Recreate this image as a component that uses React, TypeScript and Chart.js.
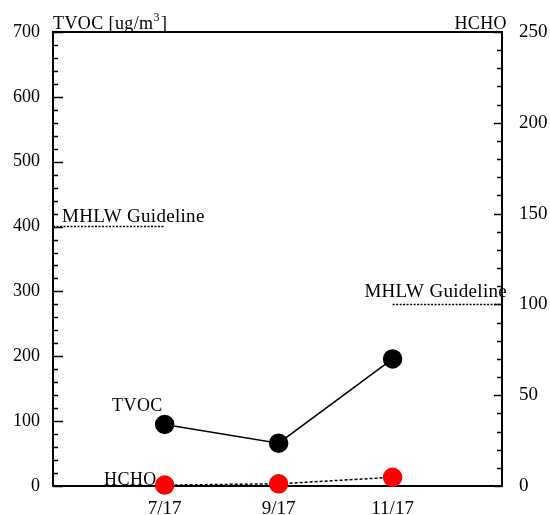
import React, { useEffect, useRef } from "react";
import { Chart, registerables } from "chart.js";

Chart.register(...registerables);

const categories = ["7/17", "9/17", "11/17"];
const tvocValues = [95, 66, 196];
const hchoValues = [0.5, 1.2, 4.8];
const tvocGuideline = 400;
const hchoGuideline = 100;
const leftTicks = { min: 0, max: 700, step: 100, minor: 20 };
const rightTicks = { min: 0, max: 250, step: 50, minor: 10 };

const FONT = "'Liberation Serif', 'Times New Roman', serif";
const X_MIN = 0.02;
const X_MAX = 3.96;

const decorPlugin = {
  id: "decor",
  beforeDatasetsDraw(chart: any) {
    const { ctx, chartArea: a } = chart;
    ctx.save();
    ctx.strokeStyle = "#000";
    ctx.lineWidth = 2;
    ctx.strokeRect(a.left, a.top, a.right - a.left, a.bottom - a.top);
    const y = chart.scales.y;
    ctx.lineWidth = 1.5;
    for (let v = leftTicks.min; v <= leftTicks.max; v += leftTicks.minor) {
      const p = Math.round(y.getPixelForValue(v)) + 0.5;
      const len = v % leftTicks.step === 0 ? 10 : 5;
      ctx.beginPath();
      ctx.moveTo(a.left, p);
      ctx.lineTo(a.left + len, p);
      ctx.stroke();
    }
    const y1 = chart.scales.y1;
    for (let v = rightTicks.min; v <= rightTicks.max; v += rightTicks.minor) {
      const p = Math.round(y1.getPixelForValue(v)) + 0.5;
      const len = v % rightTicks.step === 0 ? 8 : 5;
      ctx.beginPath();
      ctx.moveTo(a.right, p);
      ctx.lineTo(a.right - len, p);
      ctx.stroke();
    }
    ctx.restore();
  },
  afterDraw(chart: any) {
    const { ctx, chartArea: a } = chart;
    const x = chart.scales.x;
    const y = chart.scales.y;
    const y1 = chart.scales.y1;
    ctx.save();
    ctx.fillStyle = "#000";
    ctx.font = `18px ${FONT}`;
    ctx.textBaseline = "alphabetic";
    ctx.textAlign = "left";
    (ctx as any).letterSpacing = "0.4px";
    const t1 = "TVOC [ug/m";
    ctx.fillText(t1, a.left, a.top - 3);
    const w = ctx.measureText(t1).width;
    ctx.font = `12px ${FONT}`;
    ctx.fillText("3", a.left + w, a.top - 11);
    const w3 = ctx.measureText("3").width;
    ctx.font = `18px ${FONT}`;
    ctx.fillText("]", a.left + w + w3 + 1, a.top - 3);
    ctx.textAlign = "right";
    ctx.fillText("HCHO", a.right + 5, a.top - 3);
    ctx.fillText("TVOC", x.getPixelForValue(1) - 2, y.getPixelForValue(tvocValues[0]) - 13);
    ctx.fillText("HCHO", x.getPixelForValue(1) - 8, y1.getPixelForValue(0) - 1);
    ctx.font = `19px ${FONT}`;
    (ctx as any).letterSpacing = "0.3px";
    ctx.textAlign = "left";
    ctx.fillText("MHLW Guideline", a.left + 9, y.getPixelForValue(tvocGuideline) - 5);
    ctx.textAlign = "right";
    ctx.fillText("MHLW Guideline", a.right + 5, y1.getPixelForValue(hchoGuideline) - 7);
    ctx.restore();
  },
};

export default function App() {
  const ref = useRef<HTMLCanvasElement | null>(null);
  useEffect(() => {
    if (!ref.current) return;
    const chart = new Chart(ref.current, {
      type: "line",
      data: {
        datasets: [
          {
            label: "TVOC",
            data: tvocValues.map((v, i) => ({ x: i + 1, y: v })),
            yAxisID: "y",
            borderColor: "#000",
            borderWidth: 1.5,
            pointRadius: 9,
            pointBackgroundColor: "#000",
            pointBorderColor: "#000",
            clip: false as any,
          },
          {
            label: "HCHO",
            data: hchoValues.map((v, i) => ({ x: i + 1, y: v })),
            yAxisID: "y1",
            borderColor: "#000",
            borderWidth: 1.5,
            borderDash: [3, 2],
            pointRadius: 9,
            pointBackgroundColor: "#ff0000",
            pointBorderColor: "#ff0000",
            clip: false as any,
          },
          {
            label: "TVOC guideline",
            data: [
              { x: X_MIN, y: tvocGuideline },
              { x: 1, y: tvocGuideline },
            ],
            yAxisID: "y",
            borderColor: "#000",
            borderWidth: 1.5,
            borderDash: [2, 1.5],
            pointRadius: 0,
          },
          {
            label: "HCHO guideline",
            data: [
              { x: 3, y: hchoGuideline },
              { x: X_MAX, y: hchoGuideline },
            ],
            yAxisID: "y1",
            borderColor: "#000",
            borderWidth: 1.5,
            borderDash: [2, 1.5],
            pointRadius: 0,
          },
        ],
      },
      options: {
        animation: false,
        responsive: true,
        maintainAspectRatio: false,
        layout: { padding: { top: 32, left: 0, right: 0, bottom: 0 } },
        plugins: { legend: { display: false }, tooltip: { enabled: false } },
        scales: {
          x: {
            type: "linear",
            min: X_MIN,
            max: X_MAX,
            afterBuildTicks: (s: any) => {
              s.ticks = categories.map((_, i) => ({ value: i + 1 }));
            },
            afterFit: (s: any) => {
              s.height = 29;
            },
            grid: { display: false, drawTicks: false },
            border: { display: false },
            ticks: {
              autoSkip: false,
              maxRotation: 0,
              padding: 12,
              color: "#000",
              font: { family: FONT, size: 19 },
              callback: (v: any) => categories[Math.round(Number(v)) - 1] ?? "",
            },
          },
          y: {
            type: "linear",
            position: "left",
            min: leftTicks.min,
            max: leftTicks.max,
            afterFit: (s: any) => {
              s.width = 53;
            },
            grid: { display: false, drawTicks: false },
            border: { display: false },
            ticks: {
              stepSize: leftTicks.step,
              padding: 13,
              color: "#000",
              font: { family: FONT, size: 18 },
            },
          },
          y1: {
            type: "linear",
            position: "right",
            min: rightTicks.min,
            max: rightTicks.max,
            afterFit: (s: any) => {
              s.width = 48;
            },
            grid: { display: false, drawTicks: false },
            border: { display: false },
            ticks: {
              stepSize: rightTicks.step,
              padding: 17,
              color: "#000",
              font: { family: FONT, size: 19 },
            },
          },
        },
      },
      plugins: [decorPlugin],
    });
    return () => chart.destroy();
  }, []);
  return (
    <div style={{ position: "fixed", left: 0, top: 0, width: 550, height: 515, background: "#fff" }}>
      <canvas ref={ref} />
    </div>
  );
}
